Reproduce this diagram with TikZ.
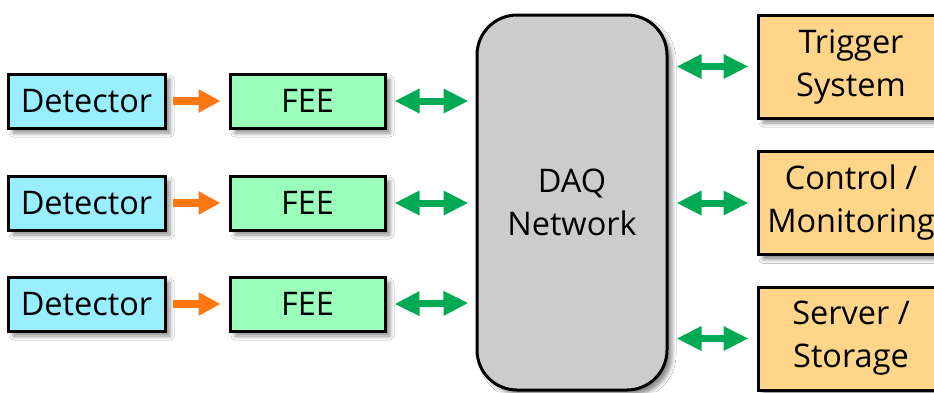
\documentclass[tikz,border=0pt]{standalone}
\usepackage{fontspec}
\setmainfont{Open Sans}
\usetikzlibrary{arrows.meta,shadows.blur}
\definecolor{detcol}{HTML}{99EEFF}
\definecolor{feecol}{HTML}{99FFBB}
\definecolor{syscol}{HTML}{FFD58A}
\definecolor{daqcol}{HTML}{CCCCCC}
\definecolor{orangearr}{HTML}{FF7711}
\definecolor{greenarr}{HTML}{00AA55}
\tikzset{
  boxbase/.style={draw=black, line width=3pt, inner sep=0pt, align=center,
    font=\fontsize{32.5}{43}\selectfont,
    blur shadow={shadow xshift=5pt, shadow yshift=-5pt, shadow blur radius=4pt, shadow opacity=45}},
  detbox/.style={boxbase, fill=detcol, minimum width=157pt, minimum height=54pt},
  feebox/.style={boxbase, fill=feecol, minimum width=155pt, minimum height=54pt},
  sysbox/.style={boxbase, fill=syscol, minimum width=186pt, minimum height=103pt},
  daqbox/.style={boxbase, fill=daqcol, rounded corners=40pt, minimum width=190pt, minimum height=375pt},
  feedarrow/.style={orangearr, line width=8pt, -{Triangle[length=22pt, width=22pt]}},
  linkarrow/.style={greenarr, line width=7pt, {Triangle[length=25pt, width=23pt]}-{Triangle[length=25pt, width=23pt]}},
}
\begin{document}
\begin{tikzpicture}[x=1pt, y=-1pt]
\useasboundingbox (0,0) rectangle (934,392);
\clip (0,0) rectangle (934,392);
\fill[white] (0,0) rectangle (934,392);

% DAQ network in the middle
\node[daqbox] (daq) at (572,202.5) {DAQ\\Network};

% detector chains
\foreach \i/\y in {1/101, 2/203, 3/304} {
  \node[detbox] (det\i) at (86.5,\y) {Detector};
  \node[feebox] (fee\i) at (307.5,\y) {FEE};
  \draw[feedarrow] ([xshift=6pt]det\i.east) -- ([xshift=-8pt]fee\i.west);
}
\coordinate (din1) at (daq.west |- fee1);
\coordinate (din2) at (daq.west |- fee2);
\coordinate (din3) at ([yshift=1pt]daq.west |- fee3);
\foreach \i in {1,2,3}
  \draw[linkarrow] ([xshift=8pt]fee\i.east) -- ([xshift=-7pt]din\i);

% systems on the right
\node[sysbox] (trig) at (851,66.5) {Trigger\\System};
\node[sysbox] (ctrl) at (851,203) {Control /\\Monitoring};
\node[sysbox] (serv) at (851,338.5) {Server /\\Storage};
\foreach \n in {trig, ctrl, serv}
  \draw[linkarrow] ([xshift=8pt]daq.east |- \n) -- ([xshift=-8pt]\n.west);
\end{tikzpicture}
\end{document}
